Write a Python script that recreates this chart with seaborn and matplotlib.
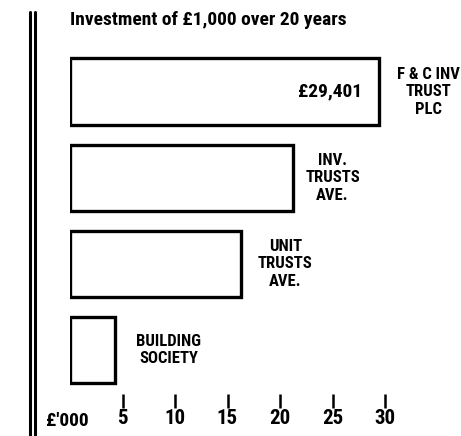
import matplotlib
matplotlib.use("Agg")
import matplotlib.pyplot as plt
import seaborn as sns
import pandas as pd
from matplotlib.lines import Line2D
import matplotlib.transforms as mtrans

categories = ["F & C INV\nTRUST\nPLC", "INV.\nTRUSTS\nAVE.", "UNIT\nTRUSTS\nAVE.", "BUILDING\nSOCIETY"]
values = [29.401, 21.2, 16.3, 4.3]
value_label = "£29,401"
tick_values = [5, 10, 15, 20, 25, 30]
tick_labels = ["5", "10", "15", "20", "25", "30"]
title = "Investment of £1,000 over 20 years"
unit_label = "£'000"

sns.set_theme(style="white")
plt.rcParams['font.family'] = ['Roboto Condensed', 'DejaVu Sans']
plt.rcParams['font.weight'] = 'bold'
plt.rcParams['text.color'] = 'black'
plt.rcParams['xtick.color'] = 'black'
plt.rcParams['xtick.labelcolor'] = 'black'

df = pd.DataFrame({"cat": categories, "val": values})

fig = plt.figure(figsize=(4.61, 4.36), dpi=100)
ax = fig.add_axes([70/461, 28/436, 391/461, 368/436])

sns.barplot(data=df, x="val", y="cat", orient="h", color="white",
            edgecolor="black", linewidth=2.4, width=0.77, ax=ax)

ax.set_xlim(0, 391/10.5)
ax.set_ylim(3.677, -0.60)
for s in ax.spines.values():
    s.set_visible(False)
ax.set_xlabel("")
ax.set_ylabel("")
ax.set_yticks([])
ax.set_xticks(tick_values)
ax.set_xticklabels(tick_labels, fontsize=15, fontweight='bold')
ax.tick_params(axis='x', direction='in', length=10, width=1.8, color='black',
               bottom=True, pad=1)
ax.grid(False)

# value inside the first bar
ax.text(values[0] - 1.6, 0, value_label, ha='right', va='center',
        fontsize=14, fontweight='bold')

# category labels to the right of bars
offsets = [4.7, 3.8, 4.2, 5.1]
for i, (c, v) in enumerate(zip(categories, values)):
    ax.text(v + offsets[i], i, c, ha='center', va='center', fontsize=12,
            fontweight='bold', linespacing=1.2)

# unit label at origin
trans = mtrans.blended_transform_factory(ax.transData, ax.transAxes)
ax.text(-0.3, -0.012, unit_label, transform=trans, ha='center', va='top',
        fontsize=14, fontweight='bold')

fig.text(70/461, 1 - 20/436, title, ha='left', va='center', fontsize=14,
         fontweight='bold')

# double vertical rule on the left
for xp, lw in [(30/461, 2.2), (35/461, 2.2)]:
    fig.add_artist(Line2D([xp, xp], [0, 1 - 12/436], color='black', lw=lw,
                          transform=fig.transFigure))

fig.savefig("out.png", dpi=100)
